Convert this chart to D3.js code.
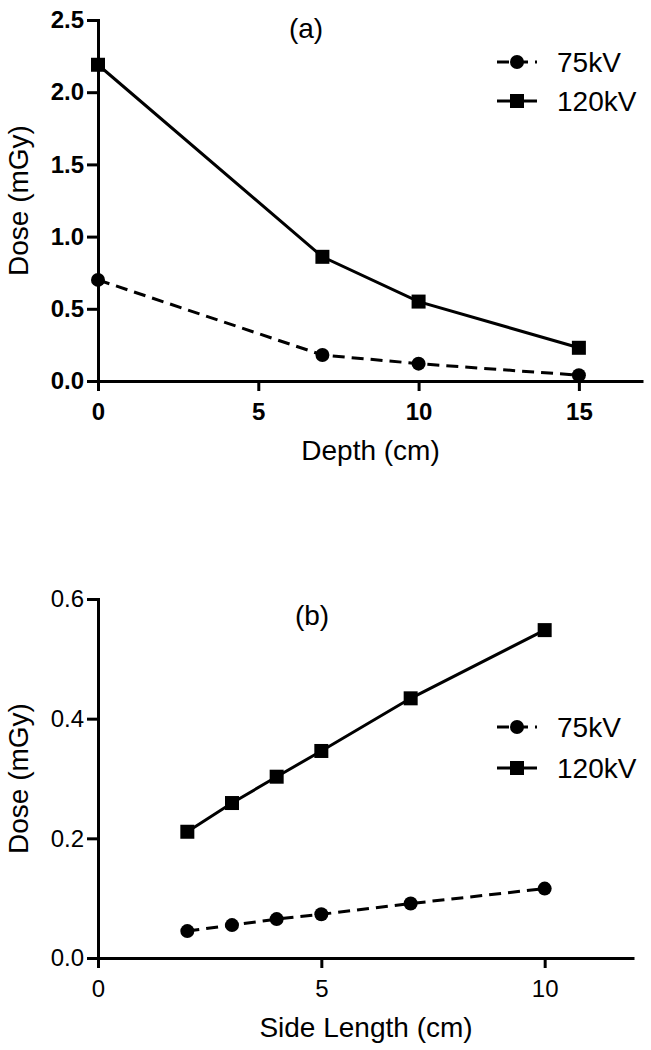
<!DOCTYPE html>
<html><head><meta charset="utf-8">
<script src="https://cdn.jsdelivr.net/npm/d3@7"></script>
<style>
body{margin:0;background:#fff;}
svg{display:block;font-family:"Liberation Sans",Arial,sans-serif;}
</style></head>
<body>
<svg id="c" width="651" height="1050"></svg>
<script>
// Panel (a)
const depth = [0, 7, 10, 15];
const doseA75 = [0.70, 0.18, 0.12, 0.04];
const doseA120 = [2.19, 0.86, 0.55, 0.23];
const ticksAX = [0, 5, 10, 15];
const ticksAY = [0, 0.5, 1.0, 1.5, 2.0, 2.5];
// Panel (b)
const side = [2, 3, 4, 5, 7, 10];
const doseB75 = [0.045, 0.055, 0.065, 0.073, 0.091, 0.116];
const doseB120 = [0.211, 0.259, 0.303, 0.346, 0.434, 0.548];
const ticksBX = [0, 5, 10];
const ticksBY = [0, 0.2, 0.4, 0.6];
const seriesNames = ["75kV", "120kV"];

const svg = d3.select("#c");

function panel(cfg){
  const g = svg.append("g");
  const x = d3.scaleLinear().domain(cfg.xDom).range(cfg.xRange);
  const y = d3.scaleLinear().domain(cfg.yDom).range(cfg.yRange);
  const weight = cfg.bold ? "bold" : "normal";

  const xa = g.append("g").attr("transform", `translate(0,${cfg.yRange[0]})`)
    .call(d3.axisBottom(x).tickValues(cfg.xTicks).tickSize(10).tickSizeOuter(0).tickFormat(d3.format("d")));
  const ya = g.append("g").attr("transform", `translate(${cfg.xRange[0]},0)`)
    .call(d3.axisLeft(y).tickValues(cfg.yTicks).tickSize(11).tickSizeOuter(0).tickPadding(3).tickFormat(d3.format(".1f")));
  [xa, ya].forEach(a => {
    a.select(".domain").attr("stroke", "#000").attr("stroke-width", 3);
    a.selectAll(".tick line").attr("stroke", "#000").attr("stroke-width", 3);
    a.selectAll(".tick text").attr("fill", "#000").attr("font-size", 24)
      .attr("font-weight", weight).attr("font-family", '"Liberation Sans",Arial,sans-serif');
  });
  xa.selectAll(".tick text").attr("dy", "0.71em").attr("y", 22);
  ya.select(".domain").attr("stroke-linecap", "square");

  // lines
  const line = d3.line().x(d => x(d[0])).y(d => y(d[1]));
  const d75 = cfg.xs.map((v, i) => [v, cfg.s75[i]]);
  const d120 = cfg.xs.map((v, i) => [v, cfg.s120[i]]);
  g.append("path").datum(d75).attr("d", line).attr("fill", "none")
    .attr("stroke", "#000").attr("stroke-width", 3).attr("stroke-dasharray", "12,7");
  g.append("path").datum(d120).attr("d", line).attr("fill", "none")
    .attr("stroke", "#000").attr("stroke-width", 3);
  g.selectAll("circle.m").data(d75).join("circle").attr("class", "m")
    .attr("cx", d => x(d[0])).attr("cy", d => y(d[1])).attr("r", 7).attr("fill", "#000");
  g.selectAll("rect.m").data(d120).join("rect").attr("class", "m")
    .attr("x", d => x(d[0]) - 7).attr("y", d => y(d[1]) - 7)
    .attr("width", 14).attr("height", 14).attr("fill", "#000");

  // titles
  g.append("text").attr("x", cfg.titlePos[0]).attr("y", cfg.titlePos[1])
    .attr("text-anchor", "middle").attr("font-size", 28).text(cfg.title);
  g.append("text").attr("x", (cfg.xRange[0] + cfg.xRange[1]) / 2).attr("y", cfg.yRange[0] + 79)
    .attr("text-anchor", "middle").attr("font-size", 28).text(cfg.xLabel);
  g.append("text").attr("transform", `translate(28,${(cfg.yRange[0] + cfg.yRange[1]) / 2}) rotate(-90)`)
    .attr("text-anchor", "middle").attr("font-size", 28).text("Dose (mGy)");

  // legend
  const lg = g.append("g");
  seriesNames.forEach((name, i) => {
    const ly = cfg.legY[i];
    lg.append("line").attr("x1", 497).attr("x2", 537).attr("y1", ly).attr("y2", ly)
      .attr("stroke", "#000").attr("stroke-width", 3)
      .attr("stroke-dasharray", i === 0 ? "12,7" : null);
    if (i === 0) lg.append("circle").attr("cx", 517).attr("cy", ly).attr("r", 7).attr("fill", "#000");
    else lg.append("rect").attr("x", 510).attr("y", ly - 7).attr("width", 14).attr("height", 14).attr("fill", "#000");
    lg.append("text").attr("x", 557).attr("y", ly + 10).attr("font-size", 28).text(name);
  });
}

panel({xDom:[0,17], xRange:[98,643], yDom:[0,2.5], yRange:[381,20],
  xTicks:ticksAX, yTicks:ticksAY, bold:true, xs:depth, s75:doseA75, s120:doseA120,
  title:"(a)", titlePos:[306,38], xLabel:"Depth (cm)", legY:[62,101]});
panel({xDom:[0,12], xRange:[98,634], yDom:[0,0.6], yRange:[958,599],
  xTicks:ticksBX, yTicks:ticksBY, bold:false, xs:side, s75:doseB75, s120:doseB120,
  title:"(b)", titlePos:[312,625], xLabel:"Side Length (cm)", legY:[727,768]});
</script>
</body></html>
